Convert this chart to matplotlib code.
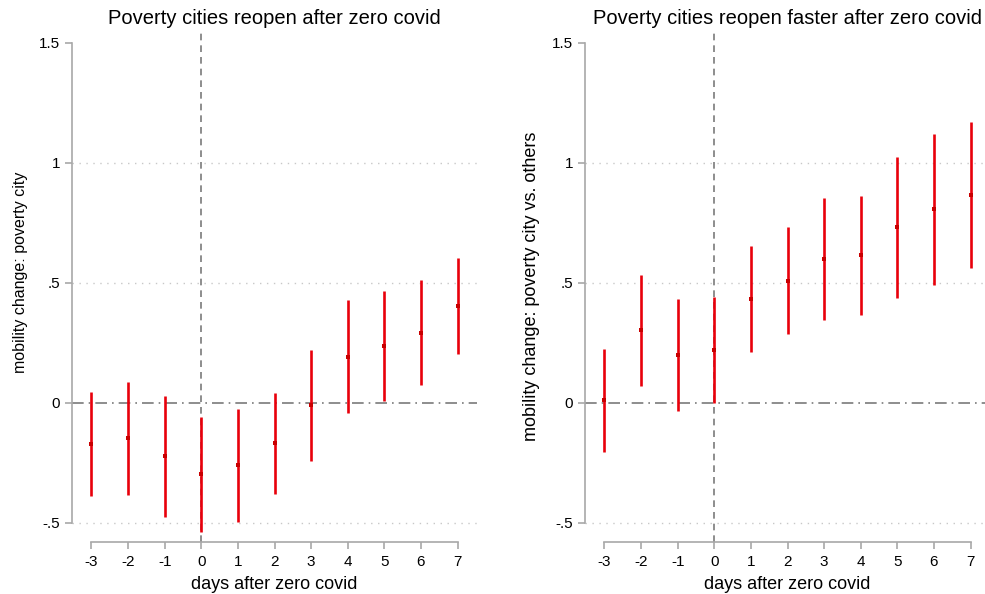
import matplotlib
matplotlib.use("Agg")
import matplotlib.pyplot as plt
import numpy as np

plt.rcParams['font.family'] = ['Liberation Sans', 'DejaVu Sans']

days = [-3, -2, -1, 0, 1, 2, 3, 4, 5, 6, 7]

# left panel: poverty city
coef_left = [-0.171, -0.148, -0.220, -0.297, -0.259, -0.167, -0.011, 0.193, 0.239, 0.292, 0.402]
hi_left = [0.046, 0.089, 0.029, -0.058, -0.024, 0.043, 0.220, 0.429, 0.468, 0.511, 0.604]
lo_left = [-0.389, -0.386, -0.474, -0.537, -0.497, -0.379, -0.244, -0.043, 0.008, 0.074, 0.202]

# right panel: poverty city vs. others
coef_right = [0.010, 0.302, 0.199, 0.220, 0.432, 0.508, 0.601, 0.615, 0.732, 0.807, 0.866]
hi_right = [0.226, 0.532, 0.434, 0.440, 0.653, 0.731, 0.853, 0.863, 1.025, 1.122, 1.169]
lo_right = [-0.205, 0.071, -0.036, 0.000, 0.210, 0.285, 0.344, 0.365, 0.437, 0.493, 0.564]

yticks = [-0.5, 0, 0.5, 1, 1.5]
ytick_labels = ['-.5', '0', '.5', '1', '1.5']

fig = plt.figure(figsize=(9.85, 5.94), dpi=100)
ax1 = fig.add_axes([72 / 985, 52 / 594, 405 / 985, 511 / 594])
ax2 = fig.add_axes([585 / 985, 52 / 594, 405 / 985, 511 / 594])

panels = [
    (ax1, coef_left, lo_left, hi_left, 'Poverty cities reopen after zero covid',
     'mobility change: poverty city', 11.5, -0.109, 0.528),
    (ax2, coef_right, lo_right, hi_right, 'Poverty cities reopen faster after zero covid',
     'mobility change: poverty city vs. others', 13, -0.111, 0.50),
]

for ax, c, lo, hi, title, ylab, ylab_size, ylab_x, ylab_y in panels:
    # grid + reference lines
    for g in [-0.5, 0.5, 1]:
        ax.axhline(g, color='#c8c8c8', lw=1, ls=(0, (1, 4)), zorder=1)
    ax.axhline(0, color='#7a7a7a', lw=1.2, ls=(0, (7, 3, 1, 3)), zorder=1)
    ax.axvline(0, color='#7a7a7a', lw=1.2, ls=(0, (4, 3)), zorder=1)

    ax.vlines(days, lo, hi, color='#e8000b', lw=1.9, zorder=3)
    ax.plot(days, c, 's', color='#c80000', ms=2.8, mew=0, zorder=4)

    ax.set_xlim(-3.53, 7.53)
    ax.set_ylim(-0.58, 1.55)
    ax.set_xticks(days)
    ax.set_xticklabels([str(d) for d in days])
    ax.set_yticks(yticks)
    ax.set_yticklabels(ytick_labels)

    for s in ['top', 'right']:
        ax.spines[s].set_visible(False)
    ax.spines['left'].set_bounds(-0.5, 1.5)
    ax.spines['bottom'].set_bounds(-3, 7)
    ax.spines['left'].set_color('#a8a8a8')
    ax.spines['bottom'].set_color('#a8a8a8')
    ax.spines['left'].set_linewidth(1.2)
    ax.spines['bottom'].set_linewidth(1.2)
    ax.tick_params(axis='both', colors='#a8a8a8', labelcolor='black',
                   length=5, width=1.2, labelsize=11)
    ax.tick_params(axis='x', pad=4)

    ax.set_title(title, fontsize=14.5, pad=5)
    ax.set_xlabel('days after zero covid', fontsize=13)
    ax.set_ylabel(ylab, fontsize=ylab_size)
    ax.yaxis.set_label_coords(ylab_x, ylab_y)
    ax.xaxis.set_label_coords(0.5, -0.066)

fig.savefig('out.png', dpi=100)
